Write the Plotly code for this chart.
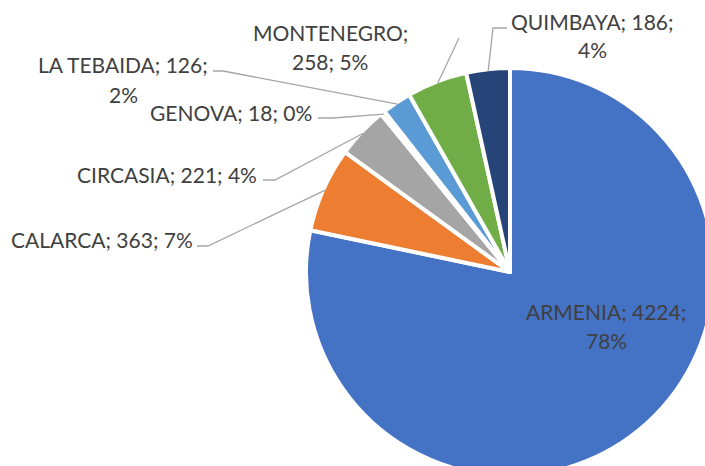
import math
import plotly.graph_objects as go

# ---- data ----
categories = ["ARMENIA", "CALARCA", "CIRCASIA", "GENOVA", "LA TEBAIDA", "MONTENEGRO", "QUIMBAYA"]
values = [4224, 363, 221, 18, 126, 258, 186]
percents = [78, 7, 4, 0, 2, 5, 4]          # as printed on the chart
colors = ["#4472C4", "#ED7D31", "#A5A5A5", "#FFC000", "#5B9BD5", "#70AD47", "#264478"]

# ---- layout (pixels in a 720x480 figure, viewport 705x466) ----
FW, FH = 720, 480
CX, CY, R = 510, 272, 204
FONT = "Lato"
FSIZE = 21
TXT = "#404040"
LINE = "#A6A6A6"

# label line split (number of ';'-tokens on first line), line centers, leader anchor
label_cfg = {
    "ARMENIA":    dict(split=2, x=606, ys=[311, 340], leader=None),
    "CALARCA":    dict(split=3, x=102, ys=[239], leader=[(197, 246), (208, 246)]),
    "CIRCASIA":   dict(split=3, x=167, ys=[175], leader=[(263, 180), (275, 180)]),
    "GENOVA":     dict(split=3, x=231, ys=[113], leader=[(318, 118), (333, 118)]),
    "LA TEBAIDA": dict(split=2, x=123, ys=[65, 95], leader=[(213, 71), (223, 71)]),
    "MONTENEGRO": dict(split=1, x=330, ys=[33, 62], leader=[(459, 38)]),
    "QUIMBAYA":   dict(split=2, x=592, ys=[22, 50], leader=[(507, 28), (493, 28)]),
}


def X(px):
    return px / FW


def Y(py):
    return 1 - py / FH


fig = go.Figure(go.Pie(
    labels=categories,
    values=values,
    sort=False,
    direction="clockwise",
    rotation=0,
    marker=dict(colors=colors, line=dict(color="white", width=4)),
    textinfo="none",
    hoverinfo="label+value+percent",
    domain=dict(x=[X(CX - R), X(CX + R)], y=[Y(CY + R), Y(CY - R)]),
    showlegend=False,
))

total = sum(values)
cum = 0
annotations = []
shapes = []
for name, v, p in zip(categories, values, percents):
    mid = (cum + v / 2) / total * 2 * math.pi
    cum += v
    cfg = label_cfg[name]
    tokens = [f"{name};", f"{v};", f"{p}%"]
    lines = [" ".join(tokens[:cfg["split"]]), " ".join(tokens[cfg["split"]:])]
    lines = [l for l in lines if l]
    for line, yy in zip(lines, cfg["ys"]):
        annotations.append(dict(
            x=X(cfg["x"]), y=Y(yy), xref="paper", yref="paper",
            text=line, showarrow=False, xanchor="center", yanchor="middle",
            font=dict(family=FONT, size=FSIZE, color=TXT),
        ))
    if cfg["leader"]:
        ex = CX + (R - 2) * math.sin(mid)
        ey = CY - (R - 2) * math.cos(mid)
        pts = cfg["leader"] + [(ex, ey)]
        path = "M " + " L ".join(f"{X(a):.5f},{Y(b):.5f}" for a, b in pts)
        shapes.append(dict(type="path", path=path, xref="paper", yref="paper",
                           line=dict(color=LINE, width=1.3)))

fig.update_layout(
    width=FW, height=FH,
    margin=dict(l=0, r=0, t=0, b=0),
    paper_bgcolor="white",
    plot_bgcolor="white",
    annotations=annotations,
    shapes=shapes,
)

post = (
    "var gd=document.getElementById('{plot_id}');var p=gd.parentElement;"
    "document.body.style.margin='0';document.body.style.overflow='hidden';"
    "document.documentElement.style.overflow='hidden';"
    "p.style.width='705px';p.style.height='466px';p.style.overflow='hidden';"
)
fig.write_html("out.html", post_script=post, config={"displayModeBar": False})
